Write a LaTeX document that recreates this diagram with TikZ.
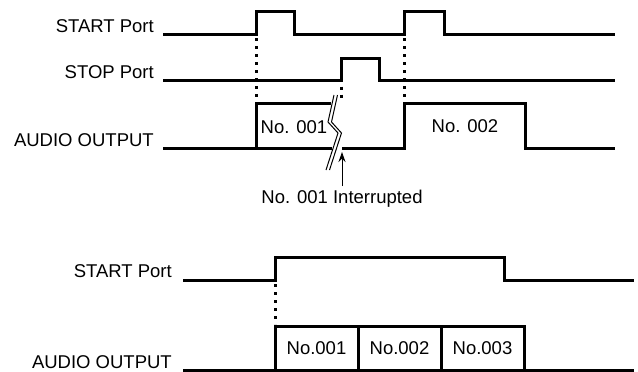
\documentclass[tikz,border=0pt]{standalone}
\usepackage{fontspec}
\setmainfont{Liberation Sans}
\usetikzlibrary{arrows.meta, positioning}
\tikzset{
  wave/.style={line width=3pt, line join=miter},
  cue/.style={line width=3pt, dash pattern=on 3pt off 5pt},
  cut/.style={line width=1pt, line join=miter},
  portname/.style={anchor=base east, inner sep=0pt},
  slot/.style={draw, line width=3pt, outer sep=0pt, inner sep=0pt,
    minimum width=83pt, minimum height=44pt}
}

\begin{document}
\begin{tikzpicture}[x=1pt, y=-1pt, font=\fontsize{18.5}{21}\selectfont, >={Stealth[length=10pt, width=7pt]}]
  \useasboundingbox (0,0) rectangle (638,372);
  % upper chart: a STOP pulse cuts clip 001 short
  \node[portname] (startA) at (154,32) {START Port};
  \node[portname] (stopA) at (154,78) {STOP Port};
  \node[portname] (audioA) at (154,146.5) {AUDIO OUTPUT};
  \draw[wave] (163,34) -- (256,34) -- (256,11) -- (294,11) -- (294,34)
    -- (404,34) -- (404,11) -- (444,11) -- (444,34) -- (615,34);
  \draw[wave] (163,80) -- (341,80) -- (341,58) -- (379,58) -- (379,80) -- (615,80);
  \draw[wave] (163,148) -- (332,148);
  \draw[wave] (256,148) -- (256,103) -- (331,103);
  \draw[wave] (342,148) -- (404,148) -- (404,103) -- (525,103) -- (525,148) -- (615,148);
  \draw[cue] (256,38) -- (256,101);
  \draw[cue] (341,86.5) -- (341,100);
  \draw[cue] (404,38) -- (404,101);
  \node (clipA) at (294,127) {No. 001};
  \node (clipB) at (465,126) {No. 002};
  % the break mark
  \draw[cut] (334,95) -- (328,122) -- (338,133) -- (326,170);
  \draw[cut] (337.5,95) -- (331.5,122) -- (341.5,133) -- (329.5,170);
  \coordinate (gap) at (342,152);
  \node[anchor=base] (intr) at (342,203) {No. 001 Interrupted};
  \draw[->, line width=1pt] (intr.north) -- (gap);
  % lower chart: a long START plays the clips one after another
  \node[portname] (startB) at (172,277.5) {START Port};
  \node[portname] (audioB) at (172,368) {AUDIO OUTPUT};
  \draw[wave] (183,280) -- (275,280) -- (275,257) -- (504,257) -- (504,280) -- (634,280);
  \draw[wave] (183,370) -- (634,370);
  \draw[cue] (275,284) -- (275,324);
  \node[slot] (clip1) at (316.5,348) {No.001};
  \node[slot, right=0pt of clip1] (clip2) {No.002};
  \node[slot, right=0pt of clip2] (clip3) {No.003};
\end{tikzpicture}
\end{document}
